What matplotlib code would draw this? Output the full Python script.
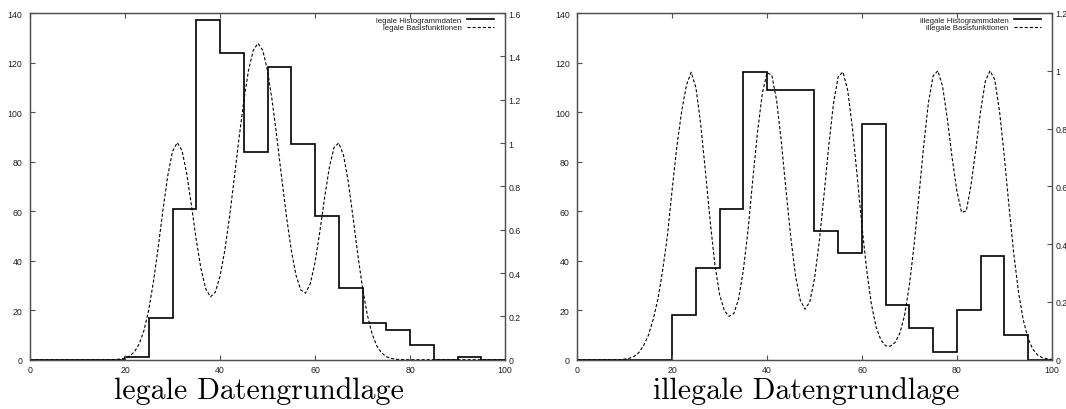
import matplotlib
matplotlib.use("Agg")
import matplotlib.pyplot as plt
from matplotlib.ticker import MultipleLocator, FuncFormatter

# Histogram bins (width 5) and counts
bin_edges = list(range(0, 105, 5))
legal_counts = [0, 0, 0, 0, 1, 17, 61, 137, 124, 84,
                118, 87, 58, 29, 15, 12, 6, 0, 1, 0]
illegal_counts = [0, 0, 0, 0, 18, 37, 61, 116, 109, 109,
                  52, 43, 95, 22, 13, 3, 20, 42, 10, 0]

# Sampled basis-function sums (x = 0 .. 100)
basis_x = list(range(0, 101))
legal_basis = [
    0.000, 0.000, 0.000, 0.000, 0.000, 0.000, 0.000, 0.000, 0.000, 0.000,
    0.000, 0.000, 0.000, 0.000, 0.000, 0.000, 0.000, 0.000, 0.001, 0.003,
    0.007, 0.017, 0.037, 0.073, 0.135, 0.230, 0.361, 0.520, 0.693, 0.849,
    0.961, 1.002, 0.965, 0.858, 0.711, 0.553, 0.419, 0.327, 0.290, 0.311,
    0.385, 0.503, 0.658, 0.837, 1.021, 1.193, 1.335, 1.428, 1.460, 1.428,
    1.335, 1.193, 1.021, 0.837, 0.660, 0.506, 0.390, 0.322, 0.307, 0.350,
    0.448, 0.588, 0.744, 0.885, 0.979, 1.000, 0.944, 0.822, 0.658, 0.487,
    0.332, 0.208, 0.121, 0.064, 0.032, 0.014, 0.006, 0.002, 0.001, 0.000,
    0.000, 0.000, 0.000, 0.000, 0.000, 0.000, 0.000, 0.000, 0.000, 0.000,
    0.000, 0.000, 0.000, 0.000, 0.000, 0.000, 0.000, 0.000, 0.000, 0.000,
    0.000,
]
illegal_basis = [
    0.000, 0.000, 0.000, 0.000, 0.000, 0.000, 0.000, 0.000, 0.000, 0.000,
    0.002, 0.005, 0.012, 0.025, 0.050, 0.085, 0.140, 0.210, 0.310, 0.430,
    0.590, 0.740, 0.860, 0.950, 0.995, 0.942, 0.817, 0.653, 0.481, 0.329,
    0.225, 0.170, 0.150, 0.160, 0.210, 0.310, 0.450, 0.625, 0.790, 0.922,
    0.993, 0.985, 0.899, 0.756, 0.586, 0.423, 0.291, 0.206, 0.175, 0.200,
    0.280, 0.408, 0.569, 0.739, 0.887, 0.980, 0.996, 0.932, 0.802, 0.635,
    0.463, 0.310, 0.192, 0.112, 0.068, 0.048, 0.047, 0.060, 0.092, 0.155,
    0.258, 0.398, 0.565, 0.738, 0.888, 0.982, 1.000, 0.946, 0.834, 0.700,
    0.585, 0.510, 0.515, 0.605, 0.727, 0.859, 0.963, 1.000, 0.969, 0.860,
    0.705, 0.531, 0.368, 0.234, 0.138, 0.074, 0.037, 0.017, 0.007, 0.003,
    0.001,
]

panels = [
    dict(counts=legal_counts, basis=legal_basis, y2max=1.6,
         hist_label="legale Histogrammdaten",
         basis_label="legale Basisfunktionen",
         title="legale Datengrundlage",
         rect=[30 / 1066, 49.3 / 410, 475 / 1066, 346.7 / 410]),
    dict(counts=illegal_counts, basis=illegal_basis, y2max=1.2,
         hist_label="illegale Histogrammdaten",
         basis_label="illegale Basisfunktionen",
         title="illegale Datengrundlage",
         rect=[577.3 / 1066, 49.3 / 410, 474.4 / 1066, 346.7 / 410]),
]

FRAME = "#505050"
TEXT = "#202020"
TICK_FONT = "Liberation Sans"
fmt = FuncFormatter(lambda v, _: f"{v:g}")

fig = plt.figure(figsize=(10.66, 4.10), dpi=100)

for p in panels:
    ax = fig.add_axes(p["rect"])
    ax2 = ax.twinx()

    h_line = ax.stairs(p["counts"], bin_edges, color="black", lw=1.2,
                       label=p["hist_label"])
    b_line, = ax2.plot(basis_x, p["basis"], color="black", lw=0.8,
                       dashes=(2.8, 1.8), label=p["basis_label"])

    ax.set_xlim(0, 100)
    ax.set_ylim(0, 140)
    ax2.set_ylim(0, p["y2max"])

    ax.xaxis.set_major_locator(MultipleLocator(20))
    ax.yaxis.set_major_locator(MultipleLocator(20))
    ax2.yaxis.set_major_locator(MultipleLocator(0.2))
    ax.xaxis.set_major_formatter(fmt)
    ax.yaxis.set_major_formatter(fmt)
    ax2.yaxis.set_major_formatter(fmt)

    for a in (ax, ax2):
        for s in a.spines.values():
            s.set_color(FRAME)
            s.set_linewidth(0.9)

    ax.tick_params(axis="x", direction="in", length=3.5, width=0.8,
                   color=FRAME, labelcolor=TEXT, labelsize=6.3, pad=4.0,
                   top=True, bottom=True, labeltop=False)
    ax.tick_params(axis="y", direction="in", length=3.5, width=0.8,
                   color=FRAME, labelcolor=TEXT, labelsize=6.3, pad=5.5,
                   left=True, right=False)
    ax2.tick_params(axis="y", direction="in", length=3.5, width=0.8,
                    color=FRAME, labelcolor=TEXT, labelsize=6.3, pad=2.5,
                    right=True, left=False)
    for lab in ax.get_xticklabels() + ax.get_yticklabels() + ax2.get_yticklabels():
        lab.set_fontfamily(TICK_FONT)

    leg = ax2.legend(handles=[h_line, b_line], loc="upper right",
                     bbox_to_anchor=(1 - 11 / 475, 1 - 3 / 346.7),
                     frameon=False, markerfirst=False,
                     handlelength=3.4, handletextpad=0.7, labelspacing=0.05,
                     borderaxespad=0, borderpad=0,
                     prop={"family": TICK_FONT, "size": 5.7})
    for t in leg.get_texts():
        t.set_color(TEXT)

    # Caption under each panel, set slightly left of the axes centre
    x0, _, w, _ = p["rect"]
    fig.text(x0 + w / 2 - 8.5 / 1066, 11 / 410, p["title"], fontfamily="cmr10",
             fontsize=21.5, ha="center", va="baseline", color="black")

fig.savefig("out.png", dpi=100)
